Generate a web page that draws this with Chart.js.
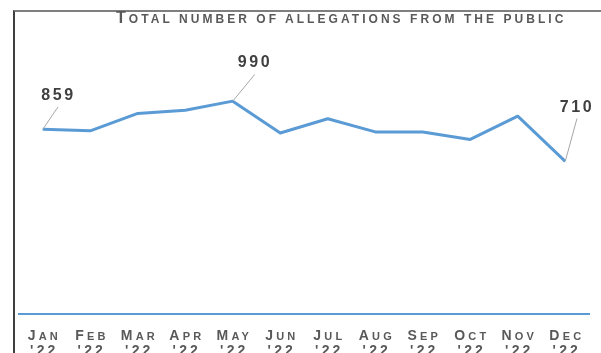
<!DOCTYPE html>
<html>
<head>
<meta charset="utf-8">
<script src="https://cdn.jsdelivr.net/npm/chart.js@4/dist/chart.umd.min.js"></script>
<style>
  html, body { margin: 0; padding: 0; background: #fff; overflow: hidden; }
  #wrap { position: relative; width: 601px; height: 353px; overflow: hidden; }
  #frame {
    position: absolute; left: 13px; top: 10px; right: 0; bottom: -4px;
    border-top: 2px solid #7f7f7f; border-left: 2px solid #3f3f3f;
  }
  #title {
    position: absolute; left: 116px; top: 10px;
    font-family: "Liberation Sans", Arial, sans-serif; font-weight: bold;
    line-height: 16px; letter-spacing: 3.05px; color: #595959; white-space: nowrap;
  }
  #title .cap { font-size: 16px; }
  #title .sc { font-size: 12px; text-transform: uppercase; }
  #plot { position: absolute; left: 0; top: 0; width: 601px; height: 353px; }
</style>
</head>
<body>
<div id="wrap">
  <div id="frame"></div>
  <div id="plot"><canvas id="chart"></canvas></div>
  <div id="title"><span class="cap">T</span><span class="sc">otal number of allegations from the public</span></div>
</div>
<script>
// Monthly totals, 2022
const months = ['Jan', 'Feb', 'Mar', 'Apr', 'May', 'Jun', 'Jul', 'Aug', 'Sep', 'Oct', 'Nov', 'Dec'];
const yearTag = "'22";
const allegations = [859, 852, 933, 948, 990, 842, 908, 847, 847, 812, 920, 710];
const calloutMonths = ['Jan', 'May', 'Dec'];
const yRange = [0, 1200];

const LINE_BLUE = '#5b9bd5';
const FONT = '"Liberation Sans", Arial, sans-serif';

// Category labels in small capitals: first letter full size, the rest smaller uppercase
const smallCapsTicks = {
  id: 'smallCapsTicks',
  afterDraw(chart, args, opts) {
    const ctx = chart.ctx;
    const scale = chart.scales.x;
    const top = chart.chartArea.bottom;
    ctx.save();
    ctx.fillStyle = opts.color;
    ctx.textBaseline = 'alphabetic';
    ctx.textAlign = 'left';
    ctx.letterSpacing = opts.spacing + 'px';
    const big = 'bold ' + opts.bigSize + 'px ' + FONT;
    const small = 'bold ' + opts.smallSize + 'px ' + FONT;
    chart.data.labels.forEach((lines, i) => {
      const x = scale.getPixelForTick(i);
      lines.forEach((text, li) => {
        const head = text.charAt(0);
        const rest = text.slice(1).toUpperCase();
        const isWord = /[A-Za-z]/.test(head);
        ctx.font = big;
        const wHead = ctx.measureText(isWord ? head : text).width;
        ctx.font = small;
        const wRest = isWord ? ctx.measureText(rest).width : 0;
        const total = wHead + wRest - opts.spacing;
        const cx = x - total / 2;
        const y = top + opts.lineOffsets[li];
        ctx.font = big;
        ctx.fillText(isWord ? head : text, cx, y);
        if (isWord) {
          ctx.font = small;
          ctx.fillText(rest, cx + wHead, y);
        }
      });
    });
    ctx.restore();
  }
};

// Value callouts with thin leader lines
const calloutPlugin = {
  id: 'callouts',
  afterDatasetsDraw(chart, args, opts) {
    const ctx = chart.ctx;
    const meta = chart.getDatasetMeta(0);
    const values = chart.data.datasets[0].data;
    ctx.save();
    ctx.letterSpacing = '2.5px';
    ctx.font = 'bold 16px ' + FONT;
    ctx.textAlign = 'center';
    ctx.textBaseline = 'middle';
    calloutMonths.forEach(m => {
      const i = months.indexOf(m);
      const pt = meta.data[i];
      const o = opts.offsets[m];
      ctx.strokeStyle = '#a6a6a6';
      ctx.lineWidth = 1;
      ctx.beginPath();
      ctx.moveTo(pt.x, pt.y);
      ctx.lineTo(pt.x + o.lead[0], pt.y + o.lead[1]);
      ctx.stroke();
      ctx.fillStyle = '#404040';
      ctx.fillText(String(values[i]), pt.x + o.label[0] + 1.2, pt.y + o.label[1]);
    });
    ctx.restore();
  }
};

new Chart(document.getElementById('chart'), {
  type: 'line',
  data: {
    labels: months.map(m => [m, yearTag]),
    datasets: [{
      data: allegations,
      borderColor: LINE_BLUE,
      borderWidth: 3,
      pointRadius: 0,
      tension: 0,
      borderJoinStyle: 'round',
      clip: false
    }]
  },
  options: {
    responsive: true,
    maintainAspectRatio: false,
    animation: false,
    layout: { padding: { top: 56, left: 19, right: 12, bottom: 39 } },
    plugins: {
      legend: { display: false },
      title: { display: false },
      tooltip: { enabled: false },
      callouts: {
        offsets: {
          Jan: { label: [14.5, -33.7], lead: [15.3, -22.4] },
          May: { label: [21, -38.2], lead: [22, -26.7] },
          Dec: { label: [10.5, -53.5], lead: [11.7, -42.7] }
        }
      },
      smallCapsTicks: {
        color: '#595959',
        spacing: 3.2,
        bigSize: 14,
        smallSize: 11,
        lineOffsets: [25.5, 40.5]
      }
    },
    scales: {
      x: {
        offset: true,
        grid: { display: false, drawTicks: false },
        border: { display: true, color: LINE_BLUE, width: 2 },
        ticks: { display: false }
      },
      y: {
        display: false,
        min: yRange[0],
        max: yRange[1]
      }
    }
  },
  plugins: [calloutPlugin, smallCapsTicks]
});
</script>
</body>
</html>
